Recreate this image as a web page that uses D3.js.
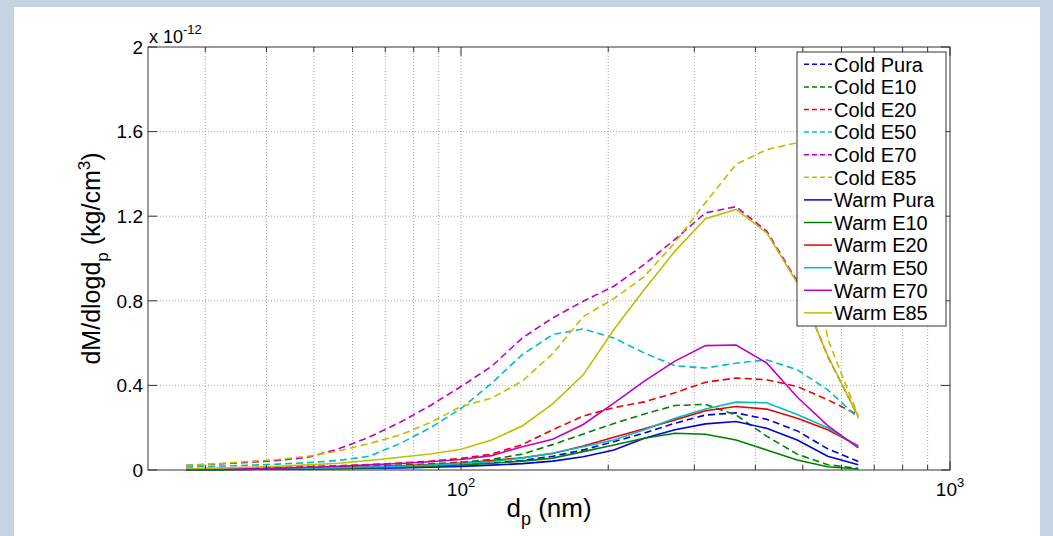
<!DOCTYPE html>
<html>
<head>
<meta charset="utf-8">
<title>dM/dlogdp - Cold vs Warm</title>
<style>
  body { margin: 0; background: #c5d4e3; font-family: "Liberation Sans", Arial, sans-serif; }
  svg { display: block; }
  .grid line { stroke: #a8a8a8; stroke-width: 1; stroke-dasharray: 1,2; }
  .tick-lbl { font-size: 19px; fill: #000; }
  .lbl { fill: #000; }
</style>
<script src="https://d3js.org/d3.v7.min.js"></script>
</head>
<body>
<script>
// particle diameter channels (nm)
var diam = [27.4, 31.6, 36.5, 42.2, 48.7, 56.2, 64.9, 75.0, 86.6, 100, 115.5, 133.4,
            154.0, 177.8, 205.4, 237.1, 273.8, 316.2, 365.2, 421.7, 487.0, 562.3, 649.4];

// dM/dlogdp values, x 10^-12 kg/cm3
var coldPura = [0.002, 0.003, 0.004, 0.005, 0.007, 0.009, 0.012, 0.015, 0.019, 0.025, 0.033, 0.045,
                0.065, 0.095, 0.134, 0.175, 0.221, 0.26, 0.27, 0.24, 0.185, 0.1, 0.04];
var coldE10  = [0.003, 0.004, 0.006, 0.008, 0.011, 0.014, 0.018, 0.023, 0.029, 0.037, 0.05, 0.075,
                0.12, 0.17, 0.22, 0.265, 0.305, 0.31, 0.26, 0.16, 0.075, 0.025, 0.008];
var coldE20  = [0.005, 0.007, 0.009, 0.012, 0.016, 0.02, 0.026, 0.033, 0.042, 0.055, 0.075, 0.12,
                0.19, 0.255, 0.295, 0.322, 0.365, 0.415, 0.435, 0.427, 0.395, 0.332, 0.26];
var coldE50  = [0.014, 0.018, 0.022, 0.028, 0.035, 0.045, 0.065, 0.125, 0.2, 0.29, 0.41, 0.545,
                0.64, 0.667, 0.624, 0.553, 0.493, 0.482, 0.505, 0.521, 0.474, 0.379, 0.245];
var coldE70  = [0.022, 0.028, 0.036, 0.045, 0.06, 0.1, 0.155, 0.225, 0.305, 0.395, 0.49, 0.624,
                0.719, 0.798, 0.869, 0.972, 1.09, 1.216, 1.245, 1.13, 0.893, 0.537, 0.253];
var coldE85  = [0.022, 0.03, 0.04, 0.05, 0.065, 0.09, 0.125, 0.165, 0.225, 0.3, 0.34, 0.42,
                0.55, 0.725, 0.81, 0.915, 1.075, 1.265, 1.445, 1.515, 1.548, 0.62, 0.253];
var warmPura = [0.001, 0.002, 0.003, 0.004, 0.005, 0.006, 0.008, 0.01, 0.013, 0.017, 0.023, 0.03,
                0.042, 0.063, 0.095, 0.15, 0.19, 0.218, 0.229, 0.197, 0.142, 0.065, 0.025];
var warmE10  = [0.002, 0.003, 0.004, 0.005, 0.007, 0.009, 0.011, 0.014, 0.018, 0.024, 0.032, 0.042,
                0.056, 0.087, 0.118, 0.15, 0.174, 0.169, 0.142, 0.095, 0.047, 0.015, 0.005];
var warmE20  = [0.003, 0.004, 0.005, 0.007, 0.009, 0.012, 0.015, 0.02, 0.026, 0.033, 0.045, 0.058,
                0.078, 0.113, 0.155, 0.195, 0.237, 0.28, 0.3, 0.288, 0.245, 0.19, 0.115];
var warmE50  = [0.002, 0.003, 0.004, 0.006, 0.008, 0.011, 0.014, 0.018, 0.023, 0.03, 0.04, 0.056,
                0.08, 0.11, 0.142, 0.19, 0.245, 0.288, 0.321, 0.318, 0.262, 0.2, 0.11];
var warmE70  = [0.003, 0.004, 0.006, 0.009, 0.013, 0.018, 0.024, 0.031, 0.039, 0.05, 0.068, 0.11,
                0.145, 0.215, 0.316, 0.42, 0.515, 0.588, 0.591, 0.506, 0.345, 0.21, 0.105];
var warmE85  = [0.006, 0.009, 0.013, 0.018, 0.024, 0.032, 0.045, 0.06, 0.076, 0.098, 0.142, 0.208,
                0.313, 0.45, 0.664, 0.853, 1.035, 1.188, 1.232, 1.122, 0.885, 0.54, 0.25];

var names  = ["Cold Pura", "Cold E10", "Cold E20", "Cold E50", "Cold E70", "Cold E85",
              "Warm Pura", "Warm E10", "Warm E20", "Warm E50", "Warm E70", "Warm E85"];
var values = [coldPura, coldE10, coldE20, coldE50, coldE70, coldE85,
              warmPura, warmE10, warmE20, warmE50, warmE70, warmE85];
var colors = ["#0000e0", "#008000", "#f00000", "#00bfbf", "#bf00bf", "#bfbf00"];

var yTicks = [0, 0.4, 0.8, 1.2, 1.6, 2];
var yTickLabels = ["0", "0.4", "0.8", "1.2", "1.6", "2"];
var xMajor = [100, 1000];
var xMinor = [30, 40, 50, 60, 70, 80, 90, 200, 300, 400, 500, 600, 700, 800, 900];

var width = 1053, height = 536;
var svg = d3.select("body").append("svg")
    .attr("width", width)
    .attr("height", height);

// white panel
svg.append("rect")
    .attr("x", 14).attr("y", 7)
    .attr("width", 1026).attr("height", 529)
    .attr("fill", "#fff");

var x = d3.scaleLog().domain([22.9, 1000]).range([148, 950]);
var y = d3.scaleLinear().domain([0, 2]).range([470, 47]);
var x0 = x.range()[0], x1 = x.range()[1], y0 = y.range()[0], y1 = y.range()[1];

// grid
var grid = svg.append("g").attr("class", "grid");
grid.selectAll(".gx").data(xMinor.concat([100])).enter().append("line")
    .attr("x1", function(d) { return x(d); }).attr("x2", function(d) { return x(d); })
    .attr("y1", y1).attr("y2", y0);
grid.selectAll(".gy").data(yTicks.slice(1, -1)).enter().append("line")
    .attr("x1", x0).attr("x2", x1)
    .attr("y1", function(d) { return y(d); }).attr("y2", function(d) { return y(d); });

// curves: cold dashed first, warm solid on top
var line = d3.line()
    .x(function(d, i) { return x(diam[i]); })
    .y(function(d) { return y(d); });

svg.append("g").selectAll("path")
    .data(values)
    .enter()
    .append("path")
    .attr("fill", "none")
    .attr("stroke", function(d, i) { return colors[i % 6]; })
    .attr("stroke-width", 1.6)
    .attr("stroke-dasharray", function(d, i) { return i < 6 ? "7,4" : null; })
    .attr("d", line);

// box + ticks
var axis = svg.append("g").attr("stroke", "#333").attr("stroke-width", 1);
axis.append("rect")
    .attr("x", x0).attr("y", y1)
    .attr("width", x1 - x0).attr("height", y0 - y1)
    .attr("fill", "none");
function xTick(vals, len) {
    vals.forEach(function(v) {
        axis.append("line").attr("x1", x(v)).attr("x2", x(v)).attr("y1", y0).attr("y2", y0 - len);
        axis.append("line").attr("x1", x(v)).attr("x2", x(v)).attr("y1", y1).attr("y2", y1 + len);
    });
}
xTick(xMajor, 9);
xTick(xMinor, 5);
yTicks.forEach(function(v) {
    axis.append("line").attr("x1", x0).attr("x2", x0 + 9).attr("y1", y(v)).attr("y2", y(v));
    axis.append("line").attr("x1", x1).attr("x2", x1 - 9).attr("y1", y(v)).attr("y2", y(v));
});

// y tick labels
svg.append("g").selectAll("text")
    .data(yTicks)
    .enter()
    .append("text")
    .attr("class", "tick-lbl")
    .attr("x", x0 - 5)
    .attr("y", function(d) { return y(d); })
    .attr("dy", "0.36em")
    .attr("text-anchor", "end")
    .text(function(d, i) { return yTickLabels[i]; });

// exponent
var ex = svg.append("text").attr("class", "lbl")
    .attr("x", x0 + 1).attr("y", 43).style("font-size", "18px");
ex.append("tspan").text("x 10");
ex.append("tspan").attr("dy", -9).style("font-size", "13px").text("-12");

// x tick labels
xMajor.forEach(function(v, i) {
    var t = svg.append("text").attr("class", "lbl")
        .attr("x", x(v)).attr("y", 496)
        .attr("text-anchor", "middle").style("font-size", "19px");
    t.append("tspan").text("10");
    t.append("tspan").attr("dy", -9).style("font-size", "13px").text(i + 2);
});

// x label
var xl = svg.append("text").attr("class", "lbl")
    .attr("x", (x0 + x1) / 2).attr("y", 517)
    .attr("text-anchor", "middle").style("font-size", "26px");
xl.append("tspan").text("d");
xl.append("tspan").attr("dy", 8).style("font-size", "18px").text("p");
xl.append("tspan").attr("dy", -8).text(" (nm)");

// y label
var yl = svg.append("text").attr("class", "lbl")
    .attr("transform", "translate(100," + ((y0 + y1) / 2) + ") rotate(-90)")
    .attr("text-anchor", "middle").style("font-size", "25px");
yl.append("tspan").text("dM/dlogd");
yl.append("tspan").attr("dy", 8).style("font-size", "17px").text("p");
yl.append("tspan").attr("dy", -8).text(" (kg/cm");
yl.append("tspan").attr("dy", -10).style("font-size", "17px").text("3");
yl.append("tspan").attr("dy", 10).text(")");

// legend
var lg = svg.append("g");
lg.append("rect")
    .attr("x", 797).attr("y", 52)
    .attr("width", 149).attr("height", 274)
    .attr("fill", "#fff").attr("stroke", "#333");
var item = lg.selectAll(".item")
    .data(names)
    .enter()
    .append("g")
    .attr("transform", function(d, i) { return "translate(0," + (64.3 + i * 22.6) + ")"; });
item.append("line")
    .attr("x1", 804).attr("x2", 832)
    .attr("stroke", function(d, i) { return colors[i % 6]; })
    .attr("stroke-width", 1.5)
    .attr("stroke-dasharray", function(d, i) { return i < 6 ? "5,3" : null; });
item.append("text")
    .attr("class", "lbl")
    .attr("x", 834).attr("dy", "0.36em")
    .style("font-size", "20px")
    .text(function(d) { return d; });
</script>
</body>
</html>
